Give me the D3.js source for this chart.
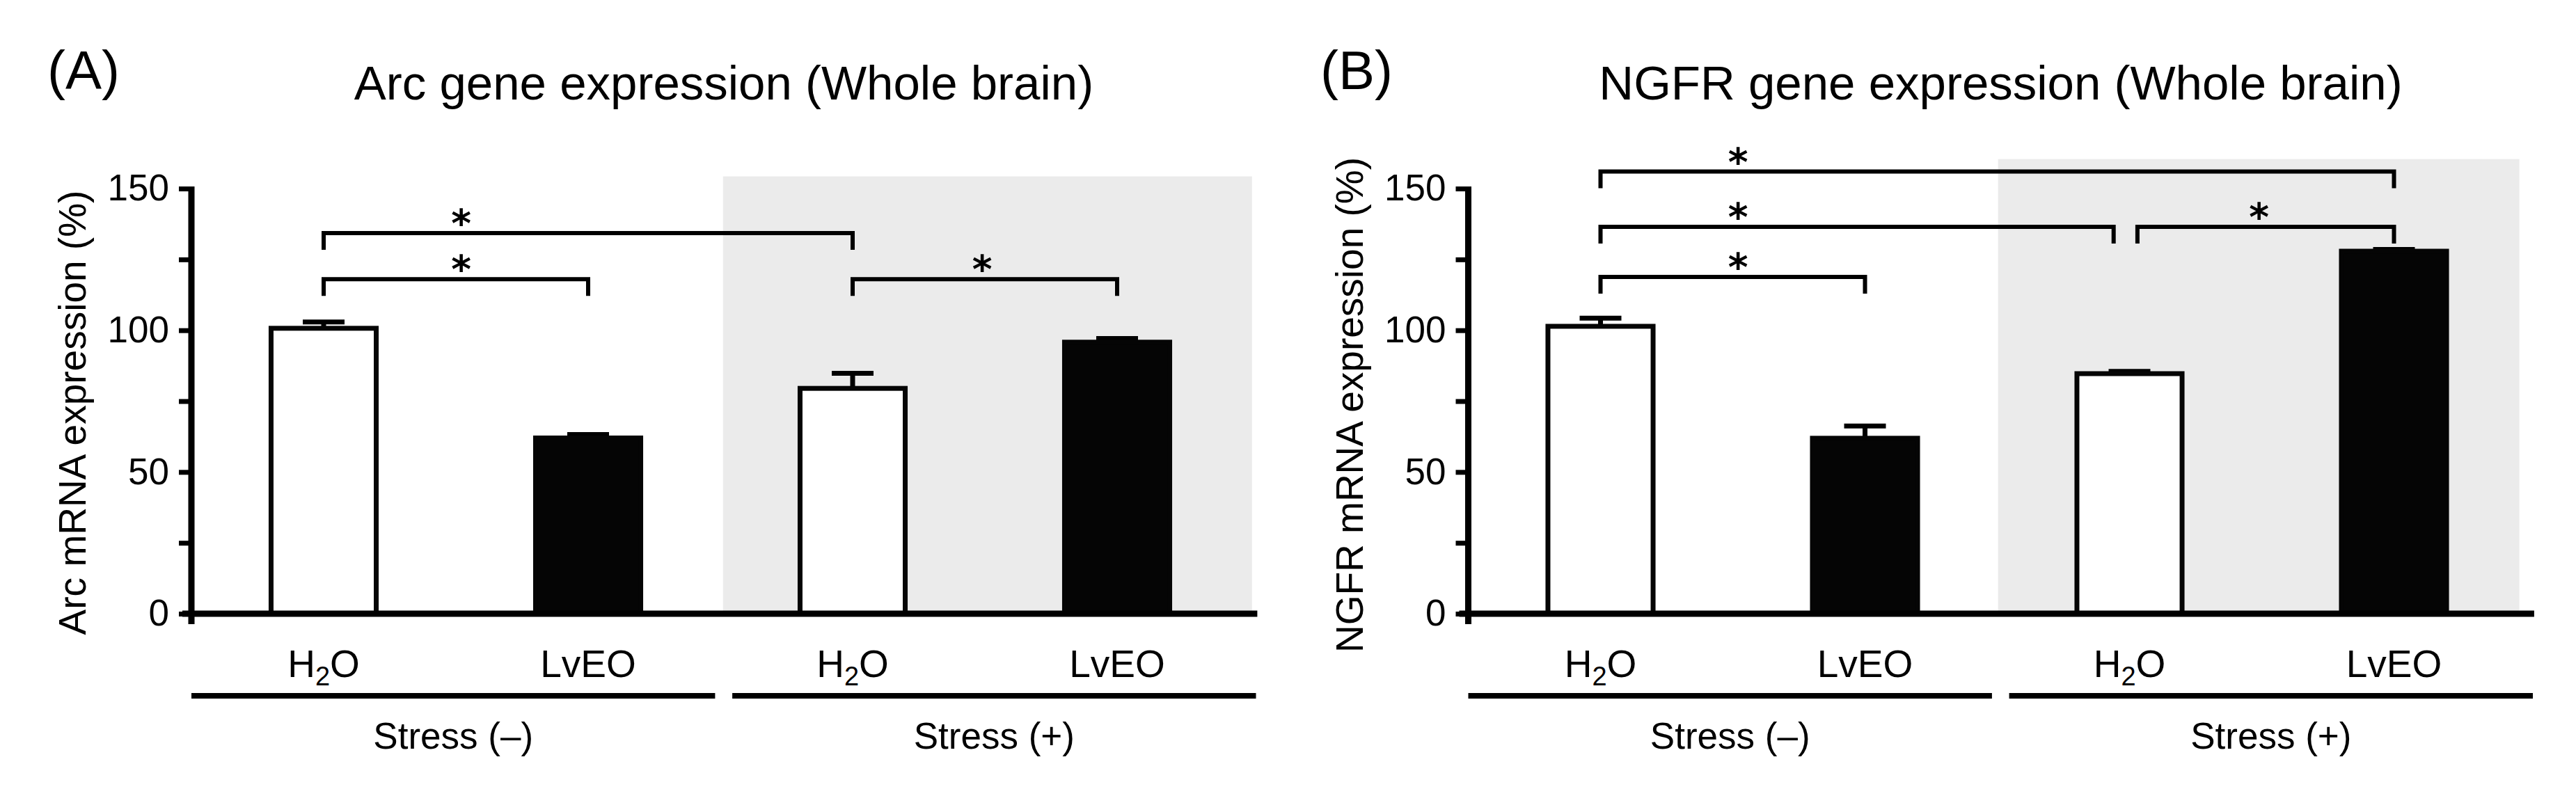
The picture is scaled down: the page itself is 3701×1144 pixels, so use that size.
<!DOCTYPE html>
<meta charset="utf-8">
<style>

body { margin: 0; background: #fff; }
text { font-family: "Liberation Sans", Arial, Helvetica, sans-serif; fill: #000; }
text.star { font-family: "DejaVu Sans", sans-serif; }

</style>
<script src="https://d3js.org/d3.v7.min.js"></script>

<body>
<script>

var width = 3701,
    height = 1144;

// values (% of control)
var categories = ["H2O", "LvEO", "H2O", "LvEO"];
var groups = ["Stress (\u2013)", "Stress (+)"];

var arcMean = [100.7, 62.0, 79.5, 95.8];
var arcErr  = [2.2, 1.2, 5.3, 1.3];

var ngfrMean = [101.4, 61.9, 84.7, 127.9];
var ngfrErr  = [2.9, 4.3, 0.8, 0.6];

var yTicks = [0, 25, 50, 75, 100, 125, 150];
var yTickLabels = ["0", "", "50", "", "100", "", "150"];

// significance brackets: bar index from / to, level (%), where the star sits
var arcBrackets = [
  {from: 0, to: 2, level: 134.3, star: 0.52},
  {from: 0, to: 1, level: 118.0, star: 0.52},
  {from: 2, to: 3, level: 118.0, star: 2.49}
];
var ngfrBrackets = [
  {from: 0, to: 3,    level: 156.0, star: 0.52},
  {from: 0, to: 1.94, level: 136.5, star: 0.52},
  {from: 2.03, to: 3, level: 136.5, star: 2.49},
  {from: 0, to: 1,    level: 118.8, star: 0.52}
];

var panels = [
  {letter: "(A)", title: "Arc gene expression (Whole brain)", ylab: "Arc mRNA expression (%)",
   mean: arcMean, err: arcErr, brackets: arcBrackets,
   x0: 275, letterX: 68, ylabY: 593, shade: [1.51, 3.51], shadeTop: 154.3},
  {letter: "(B)", title: "NGFR gene expression (Whole brain)", ylab: "NGFR mRNA expression (%)",
   mean: ngfrMean, err: ngfrErr, brackets: ngfrBrackets,
   x0: 2109.5, letterX: 1897, ylabY: 582, shade: [1.503, 3.474], shadeTop: 160.4}
];

var svg = d3.select("body")
  .append("svg")
    .attr("width", width)
    .attr("height", height);

svg.append("rect").attr("width", width).attr("height", height).attr("fill", "#fff");

var y = d3.scaleLinear()
  .domain([0, 150])
  .range([882, 271]);

// bar index -> px, relative to the y axis
var x = d3.scaleLinear()
  .domain([-0.5, 3.5])
  .range([0, 1520]);

var xb = d3.scaleBand()
  .domain(d3.range(categories.length))
  .range([0, 1520])
  .paddingInner(0.584)
  .paddingOuter(0.292);

panels.forEach(drawPanel);

function drawPanel(p) {
  svg.append("text")
    .attr("x", p.letterX)
    .attr("y", 128)
    .attr("font-size", 78)
    .text(p.letter);

  var g = svg.append("g").attr("transform", "translate(" + p.x0 + ",0)");

  g.append("text")
    .attr("x", 765)
    .attr("y", 143)
    .attr("text-anchor", "middle")
    .attr("font-size", 69)
    .text(p.title);

  // grey block behind the stressed groups
  g.append("rect")
    .attr("x", x(p.shade[0]))
    .attr("width", x(p.shade[1]) - x(p.shade[0]))
    .attr("y", y(p.shadeTop))
    .attr("height", y(0) - y(p.shadeTop))
    .attr("fill", "#ebebeb");

  // error bars (upper only)
  var eb = g.selectAll(".err")
    .data(p.mean)
    .enter().append("g")
      .attr("class", "err");
  eb.append("line")
    .attr("x1", function(d, i) { return xb(i) + xb.bandwidth() / 2; })
    .attr("x2", function(d, i) { return xb(i) + xb.bandwidth() / 2; })
    .attr("y1", function(d) { return y(d); })
    .attr("y2", function(d, i) { return y(d + p.err[i]); })
    .attr("stroke", "#000")
    .attr("stroke-width", 7);
  eb.append("line")
    .attr("x1", function(d, i) { return xb(i) + xb.bandwidth() / 2 - 30; })
    .attr("x2", function(d, i) { return xb(i) + xb.bandwidth() / 2 + 30; })
    .attr("y1", function(d, i) { return y(d + p.err[i]); })
    .attr("y2", function(d, i) { return y(d + p.err[i]); })
    .attr("stroke", "#000")
    .attr("stroke-width", 7);

  g.selectAll(".bar")
    .data(p.mean)
    .enter().append("rect")
      .attr("class", "bar")
      .attr("x", function(d, i) { return xb(i) + 3.5; })
      .attr("width", xb.bandwidth() - 7)
      .attr("y", function(d) { return y(d); })
      .attr("height", function(d) { return y(0) - y(d); })
      .attr("fill", function(d, i) { return i % 2 ? "#050505" : "#fff"; })
      .attr("stroke", "#050505")
      .attr("stroke-width", 7);

  // axes
  var yAxis = d3.axisLeft(y)
    .tickValues(yTicks)
    .tickSize(18)
    .tickPadding(14)
    .tickFormat(function(d, i) { return yTickLabels[i]; });

  var ya = g.append("g").call(yAxis);
  ya.attr("font-family", null).attr("font-size", 53);
  ya.select(".domain").remove();
  ya.selectAll(".tick line").attr("stroke-width", 7);

  g.append("line")
    .attr("x1", 0).attr("x2", 0)
    .attr("y1", y(150) - 3)
    .attr("y2", y(0) + 15)
    .attr("stroke", "#000")
    .attr("stroke-width", 9);

  g.append("line")
    .attr("x1", -13).attr("x2", x(3.53))
    .attr("y1", y(0)).attr("y2", y(0))
    .attr("stroke", "#000")
    .attr("stroke-width", 9);

  g.append("text")
    .attr("transform", "translate(-152," + p.ylabY + ") rotate(-90)")
    .attr("text-anchor", "middle")
    .attr("font-size", 55)
    .text(p.ylab);

  // category labels, digits as subscripts
  var cl = g.selectAll(".cat")
    .data(categories)
    .enter().append("text")
      .attr("class", "cat")
      .attr("x", function(d, i) { return xb(i) + xb.bandwidth() / 2; })
      .attr("y", 973)
      .attr("text-anchor", "middle")
      .attr("font-size", 55);
  cl.each(function(d) {
    var t = d3.select(this), shift = 0;
    d.split(/(\d)/).filter(function(s) { return s.length; }).forEach(function(s) {
      if (/\d/.test(s)) {
        t.append("tspan").attr("font-size", 38).attr("dy", 12).text(s);
        shift = -12;
      } else {
        t.append("tspan").attr("dy", shift).text(s);
        shift = 0;
      }
    });
  });

  // group lines + labels
  groups.forEach(function(name, k) {
    var a = x(2 * k - 0.5 + 0.045 * k),
        b = x(2 * k + 1.48 + 0.045 * k);
    g.append("line")
      .attr("x1", a).attr("x2", b)
      .attr("y1", 1000).attr("y2", 1000)
      .attr("stroke", "#000")
      .attr("stroke-width", 8);
    g.append("text")
      .attr("x", (a + b) / 2)
      .attr("y", 1076)
      .attr("text-anchor", "middle")
      .attr("font-size", 53)
      .text(name);
  });

  // brackets
  var legs = 24;
  g.selectAll(".brk")
    .data(p.brackets)
    .enter().append("path")
      .attr("class", "brk")
      .attr("d", function(d) {
        var yl = y(d.level);
        return "M" + x(d.from) + "," + (yl + legs) + "V" + yl + "H" + x(d.to) + "V" + (yl + legs);
      })
      .attr("fill", "none")
      .attr("stroke", "#000")
      .attr("stroke-width", 6);

  g.selectAll(".star")
    .data(p.brackets)
    .enter().append("text")
      .attr("class", "star")
      .attr("x", function(d) { return x(d.star); })
      .attr("y", function(d) { return y(d.level) + 5; })
      .attr("text-anchor", "middle")
      .attr("font-size", 55)
      .attr("font-weight", "bold")
      .text("*");
}

</script>
</body>
